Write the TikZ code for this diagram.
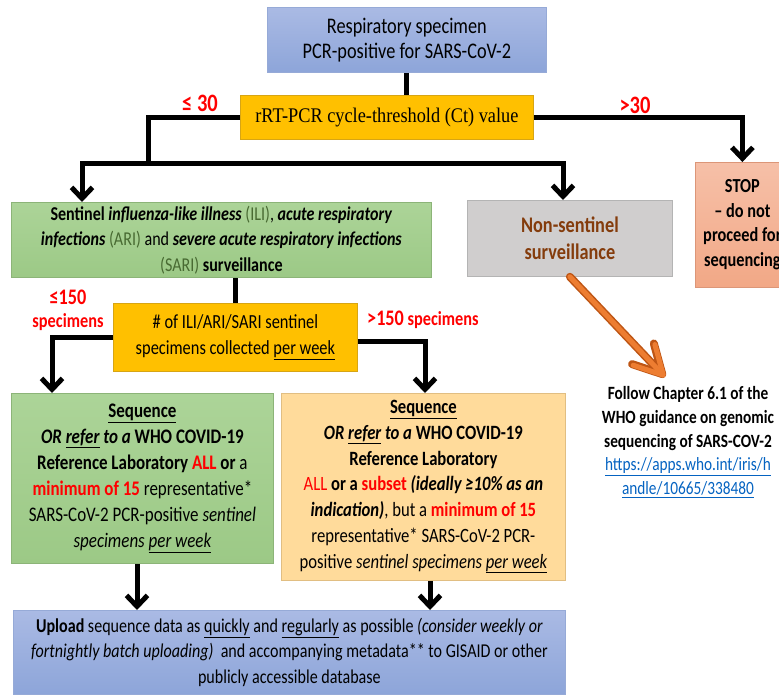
\documentclass[tikz,border=0pt]{standalone}
\usepackage{xcolor}
\usepackage{fontspec}
\setmainfont{Carlito}[FakeStretch=0.82]
\newfontfamily\serifct{Liberation Serif}[FakeStretch=0.88]
\usepackage{tikz}
\usetikzlibrary{arrows.meta, positioning}

\definecolor{blueTop}{RGB}{170,186,228}
\definecolor{blueBot}{RGB}{141,165,217}
\definecolor{blueLine}{RGB}{150,170,215}
\definecolor{gold}{RGB}{255,192,0}
\definecolor{goldLine}{RGB}{215,165,20}
\definecolor{greenTop}{RGB}{172,212,152}
\definecolor{greenBot}{RGB}{156,201,134}
\definecolor{greenLine}{RGB}{140,180,120}
\definecolor{iliGreen}{RGB}{72,106,50}
\definecolor{grayFill}{RGB}{208,206,206}
\definecolor{grayLine}{RGB}{180,180,180}
\definecolor{stopTop}{RGB}{246,192,168}
\definecolor{stopBot}{RGB}{242,168,134}
\definecolor{stopLine}{RGB}{220,150,120}
\definecolor{seqOrange}{RGB}{255,219,155}
\definecolor{seqLine}{RGB}{225,190,130}
\definecolor{brownTxt}{RGB}{132,60,12}
\definecolor{linkBlue}{RGB}{5,99,193}
\definecolor{arrOrange}{RGB}{237,125,49}
\definecolor{arrOrangeDark}{RGB}{190,85,20}
\definecolor{lblRed}{RGB}{255,0,0}

\begin{document}
\begin{tikzpicture}[
  x=1pt, y=-1pt,
  proc/.style={rectangle, draw, line width=0.8pt, anchor=north west, align=center, inner sep=2pt},
  lbl/.style={text=lblRed, font=\bfseries\fontsize{25}{26}\selectfont, inner sep=0pt},
  link/.style={line width=5pt},
  arrow/.style={link, -{Straight Barb[length=11pt,width=21pt]}},
  oarrow/.style={line cap=round, -{Straight Barb[length=28pt,width=30pt,round]}}
]
\useasboundingbox (0,0) rectangle (779,696);
\clip (0,0) rectangle (779,696);

\node[proc, top color=blueTop, bottom color=blueBot, draw=blueLine, minimum width=279pt, minimum height=65pt,
  font=\fontsize{22.3}{25}\selectfont] (spec) at (267,7) {Respiratory specimen\\PCR-positive for SARS-CoV-2};
\node[proc, fill=gold, draw=goldLine, minimum width=293pt, minimum height=44pt,
  font=\serifct\fontsize{20.8}{24}\selectfont] (ct) at (240,95) {rRT-PCR cycle-threshold (Ct) value};
\node[proc, top color=stopTop, bottom color=stopBot, draw=stopLine, minimum width=94pt, minimum height=125pt,
  font=\bfseries\fontsize{19.9}{24.5}\selectfont] (stop) at (695,162) {STOP\\-- do not\\proceed for\\sequencing};
\node[proc, top color=greenTop, bottom color=greenBot, draw=greenLine, minimum width=420pt, minimum height=75pt,
  font=\fontsize{19.6}{25.5}\selectfont] (ili) at (11,202)
  {\textbf{Sentinel \textit{influenza-like illness}} {\color{iliGreen}(ILI)}, \textbf{\textit{acute respiratory}}\\
   \textbf{\textit{infections}} {\color{iliGreen}(ARI)} and \textbf{\textit{severe acute respiratory infections}}\\
   {\color{iliGreen}(SARI)} \textbf{surveillance}};
\node[proc, fill=grayFill, draw=grayLine, minimum width=205pt, minimum height=76pt, text=brownTxt,
  font=\bfseries\fontsize{22.3}{27}\selectfont] (nonsent) at (467,200) {Non-sentinel\\surveillance};
\node[proc, fill=gold, draw=goldLine, minimum width=244pt, minimum height=68pt,
  font=\fontsize{20}{26}\selectfont] (count) at (113,303) {\# of ILI/ARI/SARI sentinel\\specimens collected \underline{per week}};
\node[proc, top color=greenTop, bottom color=greenBot, draw=greenLine, minimum width=262pt, minimum height=170pt,
  font=\fontsize{20.7}{26}\selectfont] (seqA) at (11,393)
  {\textbf{\underline{Sequence}}\\
   \textbf{\textit{OR \underline{refer} to a} WHO COVID-19}\\
   \textbf{Reference Laboratory \textcolor{lblRed}{ALL} or} a\\
   \textcolor{lblRed}{\textbf{minimum of 15}} representative*\\
   SARS-CoV-2 PCR-positive \textit{sentinel}\\
   \textit{specimens \underline{per week}}};
\node[proc, fill=seqOrange, draw=seqLine, minimum width=284pt, minimum height=187pt,
  font=\fontsize{20.3}{25.7}\selectfont] (seqB) at (281,393)
  {\textbf{\underline{Sequence}}\\
   \textbf{\textit{OR \underline{refer} to a} WHO COVID-19}\\
   \textbf{Reference Laboratory}\\
   \textcolor{lblRed}{ALL} \textbf{or a} \textcolor{lblRed}{\textbf{subset}} \textbf{\textit{(ideally ≥10\% as an}}\\
   \textbf{\textit{indication)}}, but a \textcolor{lblRed}{\textbf{minimum of 15}}\\
   representative* SARS-CoV-2 PCR-\\
   positive \textit{sentinel specimens \underline{per week}}};
\node[proc, top color=blueTop, bottom color=blueBot, draw=blueLine, minimum width=552pt, minimum height=84pt,
  font=\fontsize{19.6}{25.5}\selectfont] (upload) at (13,610)
  {\textbf{Upload} sequence data as \underline{quickly} and \underline{regularly} as possible \textit{(consider weekly or}\\
   \textit{fortnightly batch uploading)}\ \ and accompanying metadata** to GISAID or other\\
   publicly accessible database};
\node[align=center, font=\bfseries\fontsize{18.7}{23.75}\selectfont] (follow) at (688,442)
  {Follow Chapter 6.1 of the\\WHO guidance on genomic\\sequencing of SARS-COV-2\\
   \mdseries\textcolor{linkBlue}{\underline{https://apps.who.int/iris/h}}\\
   \mdseries\textcolor{linkBlue}{\underline{andle/10665/338480}}};

% Branch labels
\node[lbl] (le30) at (200,103) {≤ 30};
\node[lbl] (gt30) at (635,105) {>30};
\node[lbl, font=\bfseries\fontsize{22.2}{23}\selectfont] (le150) at (68,297) {≤150};
\node[lbl, font=\bfseries\fontsize{19.9}{20}\selectfont, below=9pt of le150] (le150b) {specimens};
\node[lbl, anchor=west, font=\bfseries\fontsize{19.9}{20}\selectfont] (gt150) at (367,320) {{\fontsize{22.2}{23}\selectfont >150} specimens};

\coordinate (split) at (148,163);
\coordinate (iliIn) at (82,202);
\coordinate (nonIn) at (563,200);
\coordinate (seqAIn) at (52,393);
\coordinate (seqBIn) at (425,393);
\coordinate (upA) at (137,610);
\coordinate (upB) at (430,610);
\coordinate (followIn) at (665,377);

\draw[link] (spec.south) -- (spec.south |- ct.north);
\draw[link] (ct.west) -| (split);
\draw[arrow] (split) -| (iliIn);
\draw[arrow] (split) -| (nonIn);
\draw[arrow] (ct.east) -| (stop.north);
\draw[link] (count.north) -- (count.north |- ili.south);
\draw[arrow] (count.west) -| (seqAIn);
\draw[arrow] ([yshift=-4pt]count.east) -| (seqBIn);
\draw[arrow] (seqA.south -| upA) -- (upA);
\draw[arrow] (seqB.south -| upB) -- (upB);
\draw[oarrow, line width=8pt, draw=arrOrangeDark] (nonsent.south) -- (followIn);
\draw[oarrow, line width=5pt, draw=arrOrange] (nonsent.south) -- (followIn);
\end{tikzpicture}
\end{document}
